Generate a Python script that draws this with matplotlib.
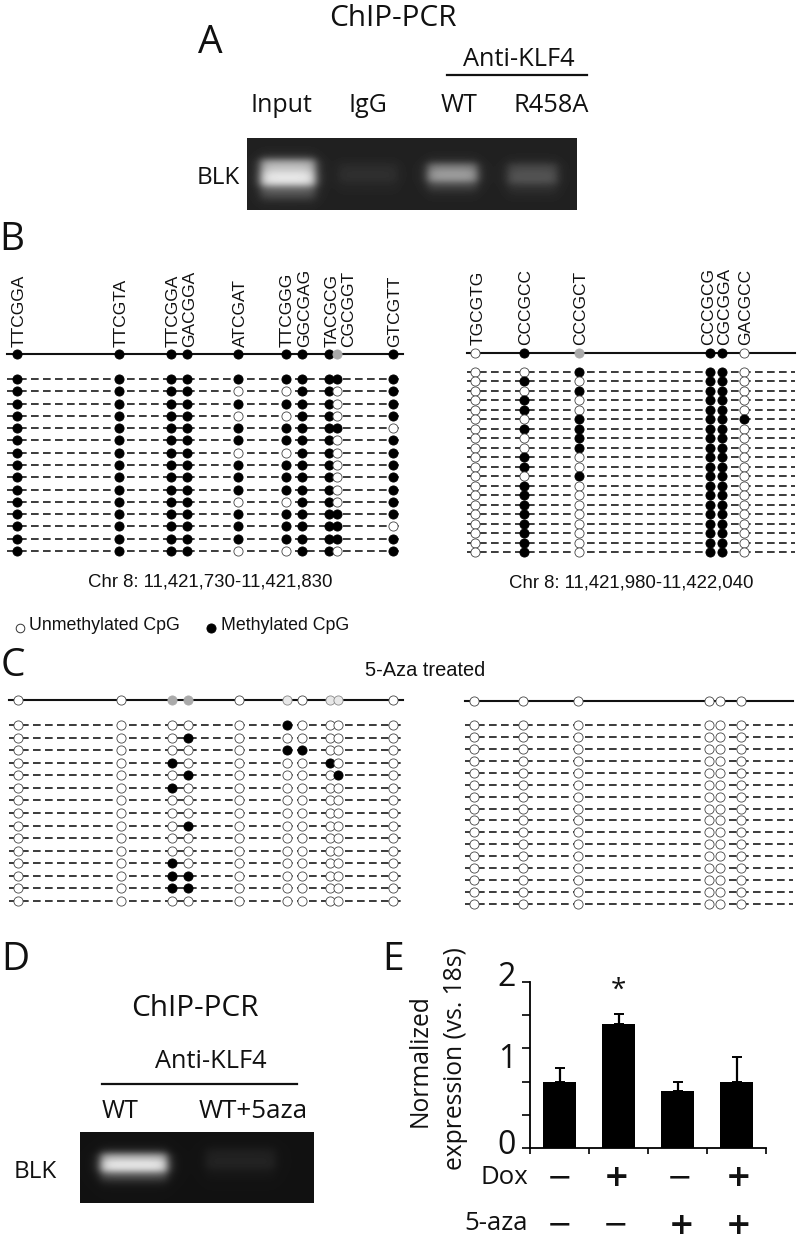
import numpy as np
import matplotlib
matplotlib.use('Agg')
import matplotlib.pyplot as plt

W, H = 800, 1239
MYRIAD = 'Open Sans'
ARIAL = 'Liberation Sans'

# CpG sites along each amplicon (pixel positions on the page)
left_sites_b = [17, 119, 171, 187, 238, 286, 302, 329, 337, 393]
right_sites_b = [475, 524, 579, 710, 722, 744]
left_sites_c = [18, 121, 172, 188, 239, 287, 302, 330, 338, 393]
right_sites_c = [474, 523, 578, 709, 720, 741]

# summary row: 1 methylated, 0 unmethylated, g grey, l pale grey
b_left_top = '11111111g1'
b_right_top = '01g110'
c_left_top = '00gg0l0ll0'
c_right_top = '000000'

# clones, one string per row
b_left_rows = [
    '1111111111',
    '1111001101',
    '1111111101',
    '1111001101',
    '1111111110',
    '1111111101',
    '1111001101',
    '1111111101',
    '1111111101',
    '1111111101',
    '1111001101',
    '1111111111',
    '1111111110',
    '1111111111',
    '1111001101',
]
b_right_rows = [
    '001110', '010110', '001110', '010110', '010110',
    '001111', '011110', '001110', '001110', '010110',
    '010110', '001110', '010110', '010110', '010110',
    '010110', '010110', '010110', '010110', '010110',
]
c_left_rows = [
    '0000010000',
    '0001000000',
    '0000011000',
    '0010000100',
    '0001000010',
    '0010000000',
    '0000000000',
    '0000000000',
    '0001000000',
    '0000000000',
    '0000000000',
    '0010000000',
    '0011000000',
    '0011000000',
    '0000000000',
]
c_right_rows = ['000000'] * 16

left_seqs = ['TTCGGA', 'TTCGTA', 'TTCGGA', 'GACGGA', 'ATCGAT',
             'TTCGGG', 'GGCGAG', 'TACGCG', 'CGCGGT', 'GTCGTT']
left_seq_x = [17, 119, 171, 188, 238, 285, 303, 330, 347, 393]
right_seqs = ['TGCGTG', 'CCCGCC', 'CCCGCT', 'CCCGCG', 'CGCGGA', 'GACGCC']
right_seq_x = [476, 524, 579, 706.5, 722.5, 744]

# panel E
bar_means = [0.80, 1.49, 0.69, 0.80]
bar_errs = [0.16, 0.13, 0.10, 0.30]
dox = ['\u2212', '+', '\u2212', '+']
aza = ['\u2212', '\u2212', '+', '+']

# gels: left, right, centre y, half height, brightness
gel_a_bands = [(260, 315, 172, 13, 0.95), (338, 397, 172, 9, 0.07),
               (427, 477, 172, 9, 0.62), (507, 557, 173, 10, 0.25)]
gel_d_bands = [(100, 167, 1162, 9, 1.0), (205, 275, 1158, 10, 0.08)]

fig = plt.figure(figsize=(W / 100, H / 100), dpi=100)
ax = fig.add_axes([0, 0, 1, 1])
ax.set_xlim(0, W)
ax.set_ylim(H, 0)
ax.axis('off')


def gel(x0, x1, y0, y1, bands, base):
    xs, ys = np.meshgrid(np.arange(x0, x1), np.arange(y0, y1))
    img = np.full(xs.shape, base, dtype=float)
    for a, b, yc, hh, amp in bands:
        sx = 1 / (1 + np.exp((a - xs) / 3.0)) * 1 / (1 + np.exp((xs - b) / 3.0))
        sy = 1 / (1 + np.exp((np.abs(ys - yc) - hh) / 2.5))
        low = 1 / (1 + np.exp((ys - yc - 2 * hh) / 3.0)) * 1 / (1 + np.exp((yc - ys) / 3.0))
        img += (1 - base) * amp * sx * (0.75 * sy + 0.25 * low)
    ax.imshow(img, extent=(x0, x1, y1, y0), cmap='gray', vmin=0, vmax=1,
              interpolation='bilinear', aspect='auto', zorder=1)


def methylation(sites, top, rows, y_top, y0, y1, x0, x1):
    ax.plot([x0, x1], [y_top, y_top], color='#111111', lw=1.5, zorder=2)
    ys = np.linspace(y0, y1, len(rows))
    for y in ys:
        ax.plot([x0, x1], [y, y], color='#1a1a1a', lw=1.2,
                dashes=(4.6, 2.6), zorder=2)
    colors = {'1': 'black', '0': 'white', 'g': '#aaaaaa', 'l': '#e8e8e8'}
    edges = {'1': 'black', '0': '#444444', 'g': '#aaaaaa', 'l': '#888888'}
    for x, state in zip(sites, top):
        ax.plot(x, y_top, 'o', ms=6.6, mfc=colors[state], mew=0.6,
                mec=edges[state], zorder=3)
    for y, row in zip(ys, rows):
        for x, state in zip(sites, row):
            ax.plot(x, y, 'o', ms=6.6, mfc=colors[state], mew=0.6,
                    mec=edges[state], zorder=3)


def label(x, y, s, size, fam=MYRIAD, ha='center', **kw):
    ax.text(x, y, s, fontsize=size, family=fam, ha=ha, va='center',
            color='#111111', **kw)


# panel A
label(393, 18, 'ChIP-PCR', 21.4)
label(210, 43, 'A', 28)
label(519, 60, 'Anti-KLF4', 18.3)
ax.plot([447, 587], [75, 75], color='#111111', lw=1.6)
label(281, 106, 'Input', 18)
label(368, 106, 'IgG', 18)
label(459, 106, 'WT', 18)
label(551, 106, 'R458A', 18.3)
label(218, 178, 'BLK', 17.5)
gel(247, 577, 138, 210, gel_a_bands, 0.13)

# panel B
label(12, 240, 'B', 28)
methylation(left_sites_b, b_left_top, b_left_rows, 354, 379, 551, 7, 403)
methylation(right_sites_b, b_right_top, b_right_rows, 353, 372, 552, 467, 795)
for x, s in zip(left_seq_x, left_seqs):
    ax.text(x + 2, 347, s, rotation=90, fontsize=12.5, family=ARIAL, ha='center',
            va='bottom', color='#111111')
for x, s in zip(right_seq_x, right_seqs):
    ax.text(x + 2, 345, s, rotation=90, fontsize=12.5, family=ARIAL, ha='center',
            va='bottom', color='#111111')
label(210, 582, 'Chr 8: 11,421,730-11,421,830', 13.4, fam=ARIAL)
label(631, 583, 'Chr 8: 11,421,980-11,422,040', 13.4, fam=ARIAL)

ax.plot(20, 628, 'o', ms=6.2, mfc='white', mec='#333333', mew=0.7)
label(29, 626, 'Unmethylated CpG', 12.8, fam=ARIAL, ha='left')
ax.plot(211, 628, 'o', ms=6.6, mfc='black', mec='black', mew=0.6)
label(221, 626, 'Methylated CpG', 12.8, fam=ARIAL, ha='left')

# panel C
label(13, 666, 'C', 28)
label(425, 670, '5-Aza treated', 14.4, fam=ARIAL)
methylation(left_sites_c, c_left_top, c_left_rows, 700, 725, 901, 9, 403)
methylation(right_sites_c, c_right_top, c_right_rows, 701, 725, 904, 465, 793)

# panel D
label(15, 960, 'D', 28)
label(195, 1008, 'ChIP-PCR', 21.4)
label(211, 1062, 'Anti-KLF4', 18.3)
ax.plot([102, 297], [1084, 1084], color='#111111', lw=1.6)
label(120, 1112, 'WT', 18)
label(253, 1112, 'WT+5aza', 18.7)
label(35, 1172, 'BLK', 17.5)
gel(80, 314, 1132, 1203, gel_d_bands, 0.07)

# panel E
label(393, 960, 'E', 28)
ax.text(420, 1061, 'Normalized', rotation=90, fontsize=17.7, family=MYRIAD,
        ha='center', va='center', color='#111111')
ax.text(456, 1059, 'expression (vs. 18s)', rotation=90, fontsize=17.7, family=MYRIAD,
        ha='center', va='center', color='#111111')

bx = fig.add_axes([530 / W, 1 - 1148 / H, 236 / W, 166 / H])
bx.patch.set_alpha(0)
positions = np.arange(4) + 0.5
bx.bar(positions, bar_means, width=0.575, color='black')
bx.errorbar(positions, bar_means, yerr=[[0] * 4, bar_errs], fmt='none',
            ecolor='black', elinewidth=1.6, capsize=3.6, capthick=1.4)
bx.set_xlim(0, 4)
bx.set_ylim(0, 2)
bx.set_xticks(range(5))
bx.set_xticklabels([])
bx.set_yticks([0, 0.4, 0.8, 1.2, 1.6, 2.0])
bx.set_yticklabels([])
bx.tick_params(axis='x', length=4, width=1.2)
bx.tick_params(axis='y', length=6, width=1.2)
for side in ['top', 'right']:
    bx.spines[side].set_visible(False)
for side in ['left', 'bottom']:
    bx.spines[side].set_linewidth(1.3)

label(507, 977, '2', 23)
label(507, 1060, '1', 23)
label(507, 1145, '0', 23)
label(618, 991, '*', 20)
label(528, 1178, 'Dox', 18.5, ha='right')
label(528, 1224, '5-aza', 18.5, ha='right')
for x, s in zip([560, 617, 679, 739], dox):
    label(x, 1178, s, 22, fam='DejaVu Sans', fontweight='bold' if s == '+' else 'normal')
for x, s in zip([560, 615, 682, 739], aza):
    label(x, 1225, s, 22, fam='DejaVu Sans', fontweight='bold' if s == '+' else 'normal')

fig.savefig('out.png', dpi=100)
